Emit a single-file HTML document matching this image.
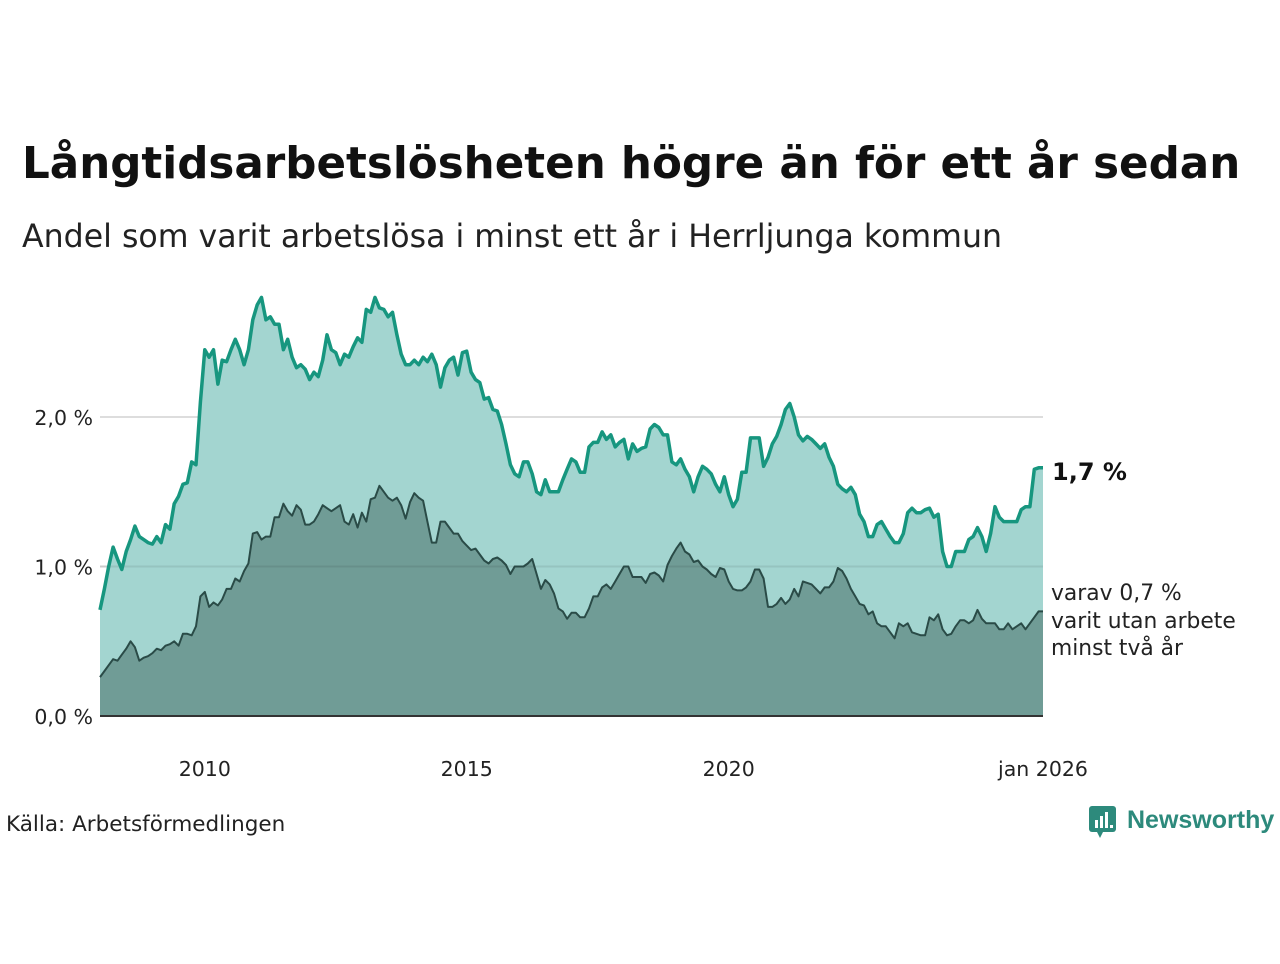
<!DOCTYPE html>
<html><head><meta charset="utf-8"><style>
body{margin:0;width:1280px;height:960px;background:#fff;font-family:"DejaVu Sans","Liberation Sans",sans-serif;overflow:hidden}
svg text{font-family:"DejaVu Sans","Liberation Sans",sans-serif}
</style></head><body>
<svg id="c" width="1280" height="960">
<text x="22" y="178" font-size="43.6" font-weight="bold" fill="#111">Långtidsarbetslösheten högre än för ett år sedan</text>
<text x="22" y="247" font-size="31.6" fill="#222">Andel som varit arbetslösa i minst ett år i Herrljunga kommun</text>
<g id="grid"></g>
<g id="areas"></g>
<g id="xaxis"></g>
<text x="1052" y="480" font-size="24" font-weight="bold" fill="#111">1,7 %</text>
<text font-size="21.8" fill="#222"><tspan x="1051" y="600">varav 0,7 %</tspan><tspan x="1051" y="628">varit utan arbete</tspan><tspan x="1051" y="655">minst två år</tspan></text>
<text x="6" y="831" font-size="21.5" fill="#222">Källa: Arbetsförmedlingen</text>
<g>
<rect x="1089" y="806" width="27" height="26" rx="3" fill="#2d8a7c"/>
<polygon points="1097,832 1103,832 1100,838" fill="#2d8a7c"/>
<rect x="1095" y="820" width="3" height="8" fill="#fff"/><rect x="1100" y="816" width="3" height="12" fill="#fff"/><rect x="1105" y="812" width="3" height="16" fill="#fff"/><rect x="1110" y="825" width="3" height="3" fill="#fff"/>
<text x="1127" y="828" font-size="25" font-weight="bold" fill="#2d8a7c" style="font-family:'Liberation Sans',sans-serif">Newsworthy</text>
</g>
</svg>
<script>
const startYear = 2008;
const total = [0.71,0.85,1.0,1.13,1.05,0.98,1.1,1.18,1.27,1.2,1.18,1.16,
1.15,1.2,1.16,1.28,1.25,1.42,1.47,1.55,1.56,1.7,1.68,2.1,
2.45,2.4,2.45,2.22,2.38,2.37,2.45,2.52,2.45,2.35,2.45,2.65,
2.75,2.8,2.65,2.67,2.62,2.62,2.45,2.52,2.4,2.33,2.35,2.32,
2.25,2.3,2.27,2.38,2.55,2.45,2.43,2.35,2.42,2.4,2.47,2.53,
2.5,2.72,2.7,2.8,2.73,2.72,2.67,2.7,2.55,2.42,2.35,2.35,
2.38,2.35,2.4,2.37,2.42,2.35,2.2,2.33,2.38,2.4,2.28,2.43,
2.44,2.3,2.25,2.23,2.12,2.13,2.05,2.04,1.95,1.82,1.68,1.62,
1.6,1.7,1.7,1.62,1.5,1.48,1.58,1.5,1.5,1.5,1.58,1.65,
1.72,1.7,1.63,1.63,1.8,1.83,1.83,1.9,1.85,1.88,1.8,1.83,
1.85,1.72,1.82,1.77,1.79,1.8,1.92,1.95,1.93,1.88,1.88,1.7,
1.68,1.72,1.65,1.6,1.5,1.6,1.67,1.65,1.62,1.55,1.5,1.6,
1.48,1.4,1.45,1.63,1.63,1.86,1.86,1.86,1.67,1.73,1.82,1.87,
1.95,2.05,2.09,2.0,1.88,1.84,1.87,1.85,1.82,1.79,1.82,1.73,
1.67,1.55,1.52,1.5,1.53,1.48,1.35,1.3,1.2,1.2,1.28,1.3,
1.25,1.2,1.16,1.16,1.22,1.36,1.39,1.36,1.36,1.38,1.39,1.33,
1.35,1.1,1.0,1.0,1.1,1.1,1.1,1.18,1.2,1.26,1.2,1.1,
1.22,1.4,1.33,1.3,1.3,1.3,1.3,1.38,1.4,1.4,1.65,1.66,1.66];
const twoYears = [0.26,0.3,0.34,0.38,0.37,0.41,0.45,0.5,0.46,0.37,0.39,0.4,
0.42,0.45,0.44,0.47,0.48,0.5,0.47,0.55,0.55,0.54,0.6,0.8,
0.83,0.73,0.76,0.74,0.78,0.85,0.85,0.92,0.9,0.97,1.02,1.22,
1.23,1.18,1.2,1.2,1.33,1.33,1.42,1.37,1.34,1.41,1.38,1.28,
1.28,1.3,1.35,1.41,1.39,1.37,1.39,1.41,1.3,1.28,1.35,1.26,
1.36,1.3,1.45,1.46,1.54,1.5,1.46,1.44,1.46,1.41,1.32,1.43,
1.49,1.46,1.44,1.3,1.16,1.16,1.3,1.3,1.26,1.22,1.22,1.17,
1.14,1.11,1.12,1.08,1.04,1.02,1.05,1.06,1.04,1.01,0.95,1.0,
1.0,1.0,1.02,1.05,0.95,0.85,0.91,0.88,0.82,0.72,0.7,0.65,
0.69,0.69,0.66,0.66,0.72,0.8,0.8,0.86,0.88,0.85,0.9,0.95,
1.0,1.0,0.93,0.93,0.93,0.89,0.95,0.96,0.94,0.9,1.01,1.07,
1.12,1.16,1.1,1.08,1.03,1.04,1.0,0.98,0.95,0.93,0.99,0.98,
0.9,0.85,0.84,0.84,0.86,0.9,0.98,0.98,0.92,0.73,0.73,0.75,
0.79,0.75,0.78,0.85,0.8,0.9,0.89,0.88,0.85,0.82,0.86,0.86,
0.9,0.99,0.97,0.92,0.85,0.8,0.75,0.74,0.68,0.7,0.62,0.6,
0.6,0.56,0.52,0.62,0.6,0.62,0.56,0.55,0.54,0.54,0.66,0.64,
0.68,0.58,0.54,0.55,0.6,0.64,0.64,0.62,0.64,0.71,0.65,0.62,
0.62,0.62,0.58,0.58,0.62,0.58,0.6,0.62,0.58,0.62,0.66,0.7,0.7];
const yTicks = [0, 1, 2];
const yTickLabels = ["0,0 %", "1,0 %", "2,0 %"];
const xTickYears = [2010, 2015, 2020];
const xTickLabels = ["2010", "2015", "2020"];
const lastLabel = "jan 2026";

const NS = "http://www.w3.org/2000/svg";
const x0 = 100, x1 = 1043, yBase = 716, pxPerUnit = 149.5;
const n = total.length;
const xs = i => x0 + (x1 - x0) * i / (n - 1);
const ys = v => yBase - v * pxPerUnit;
const xYear = yr => xs((yr - startYear) * 12);
function mk(tag, attrs, parent) { const e = document.createElementNS(NS, tag); for (const k in attrs) e.setAttribute(k, attrs[k]); parent.appendChild(e); return e; }

const grid = document.getElementById('grid');
yTicks.forEach((t, i) => {
  if (t > 0) {
    const l = mk('line', {x1: x0, x2: x1, y1: ys(t), y2: ys(t), stroke: '#ddd', 'stroke-width': 2}, grid);
    
    
  }
  const tx = mk('text', {x: 93, y: ys(t) + 8, 'text-anchor': 'end', 'font-size': 20.5, fill: '#222'}, grid);
  tx.textContent = yTickLabels[i];
  
  
});

const areas = document.getElementById('areas');
function pts(arr) { return arr.map((v, i) => xs(i).toFixed(1) + ',' + ys(v).toFixed(1)).join(' '); }
const a1 = mk('polygon', {points: x0 + ',' + yBase + ' ' + pts(total) + ' ' + x1 + ',' + yBase, fill: '#a3d5d0'}, areas);


const a2 = mk('polygon', {points: x0 + ',' + yBase + ' ' + pts(twoYears) + ' ' + x1 + ',' + yBase, fill: '#709c96'}, areas);


const g1 = mk('line', {x1: x0, x2: x1, y1: ys(1), y2: ys(1), stroke: '#000', 'stroke-opacity': 0.08, 'stroke-width': 2}, areas);


const l1 = mk('polyline', {points: pts(total), fill: 'none', stroke: '#17967f', 'stroke-width': 3.5, 'stroke-linejoin': 'round'}, areas);


const l2 = mk('polyline', {points: pts(twoYears), fill: 'none', stroke: '#2a4b47', 'stroke-width': 2, 'stroke-linejoin': 'round'}, areas);


const base = mk('line', {x1: x0, x2: x1, y1: yBase, y2: yBase, stroke: '#333', 'stroke-width': 2}, areas);



const xa = document.getElementById('xaxis');
xTickYears.forEach((yr, i) => {
  const t = mk('text', {x: xYear(yr), y: 776, 'text-anchor': 'middle', 'font-size': 20.5, fill: '#222'}, xa);
  t.textContent = xTickLabels[i];
  
  
});
const lt = mk('text', {x: xs(n - 1), y: 776, 'text-anchor': 'middle', 'font-size': 20.5, fill: '#222'}, xa);
lt.textContent = lastLabel;


</script>
</body></html>
